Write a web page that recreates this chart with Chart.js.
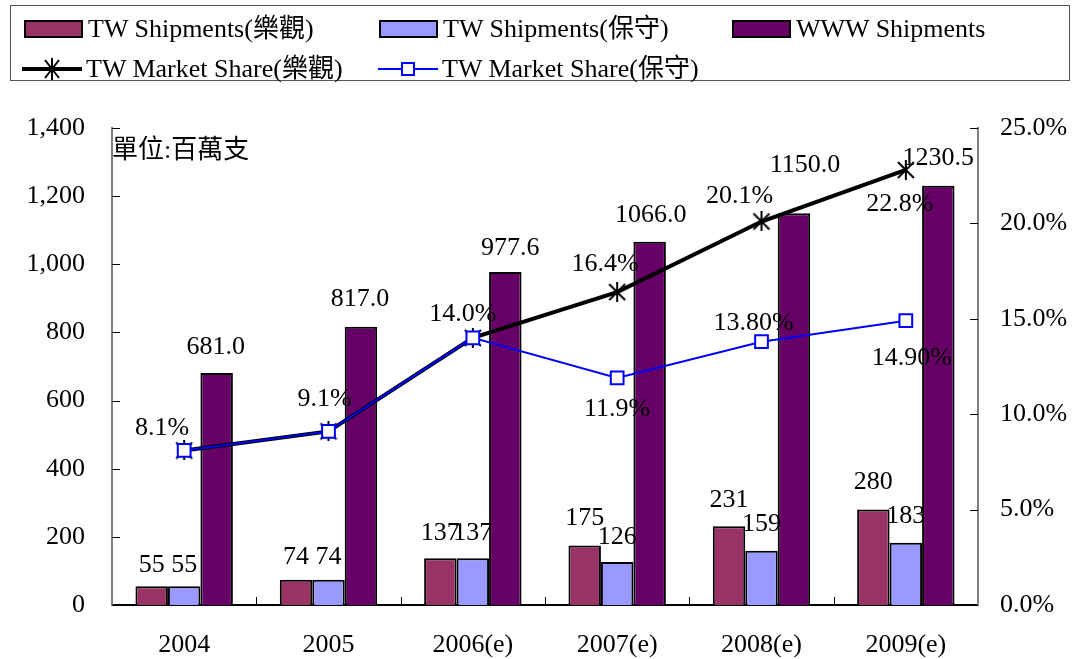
<!DOCTYPE html>
<html>
<head>
<meta charset="utf-8">
<script src="https://cdn.jsdelivr.net/npm/chart.js@4"></script>
<style>
  body { margin: 0; background: #fff; }
  #wrap { position: relative; width: 1082px; height: 659px; font-family: "Liberation Serif", "Noto Sans CJK TC", serif; }
  #legend { position: absolute; left: 10px; top: 5px; width: 1060px; height: 76px; border: 1px solid #555; box-sizing: border-box; }
  .item { position: absolute; font-size: 26px; line-height: 30px; white-space: nowrap; color: #000; }
  .item svg { position: absolute; left: 0; top: 0; }
  .item span { position: absolute; top: 0; }
</style>
</head>
<body>
<div id="wrap">
  <canvas id="chart" width="1082" height="659"></canvas>
  <div id="legend"></div>
</div>
<script>
const years = ['2004', '2005', '2006(e)', '2007(e)', '2008(e)', '2009(e)'];
const twOptimistic = [55, 74, 137, 175, 231, 280];
const twConservative = [55, 74, 137, 126, 159, 183];
const wwwShipments = [681.0, 817.0, 977.6, 1066.0, 1150.0, 1230.5];
const shareOptimistic = [8.1, 9.1, 14.0, 16.4, 20.1, 22.8];
const shareConservative = [8.1, 9.1, 14.0, 11.9, 13.8, 14.9];
const shipmentTicks = [0, 200, 400, 600, 800, 1000, 1200, 1400];
const shareTicks = [0, 5, 10, 15, 20, 25];

const FONT = '"Liberation Serif", "Noto Sans CJK TC", serif';

// marker for the optimistic share line: X with a vertical stroke
const starMark = document.createElement('canvas');
starMark.width = 20; starMark.height = 20;
(function() {
    const c = starMark.getContext('2d');
    c.strokeStyle = '#000';
    c.lineWidth = 2;
    c.beginPath();
    c.moveTo(2, 2); c.lineTo(18, 18);
    c.moveTo(18, 2); c.lineTo(2, 18);
    c.moveTo(10, 0); c.lineTo(10, 20);
    c.stroke();
})();

// label offsets from each point (text centre), per dataset
const labelSetup = [
    { text: v => String(v), off: [[0,-21],[0,-23],[0,-25],[0,-27],[0,-26],[0,-27]] },
    { text: v => String(v), off: [[0,-21],[0,-23],[0,-25],[0,-25],[0,-27],[0,-26]] },
    { text: v => v.toFixed(1), off: [[-1,-26],[-1,-27],[5,-24],[1,-27],[11,-48],[0,-28]] },
    { text: v => v.toFixed(1) + '%', off: [[-22,-22],[-4,-32],[-10,-24],[-12,-28],[-22,-25],[-6,34]] },
    { text: (v, i) => i < 3 ? null : v.toFixed(i === 3 ? 1 : 2) + '%', off: [[0,0],[0,0],[0,0],[0,31],[-8,-19],[6,37]] }
];

const valueLabels = {
    id: 'valueLabels',
    afterDatasetsDraw(chart) {
        const ctx = chart.ctx;
        ctx.save();
        ctx.font = '26px ' + FONT;
        ctx.fillStyle = '#000';
        ctx.textAlign = 'center';
        ctx.textBaseline = 'middle';
        chart.data.datasets.forEach((ds, di) => {
            const setup = labelSetup[di];
            chart.getDatasetMeta(di).data.forEach((el, i) => {
                const t = setup.text(ds.data[i], i);
                if (t === null) return;
                const o = setup.off[i];
                ctx.fillText(t, el.x + o[0], el.y + o[1]);
            });
        });
        // unit note
        ctx.textAlign = 'left';
        ctx.fillText('單位:百萬支', chart.chartArea.left, 151);
        ctx.restore();
    }
};

const innerTicks = {
    id: 'innerTicks',
    afterDraw(chart) {
        const { ctx, chartArea: a, scales } = chart;
        ctx.save();
        ctx.strokeStyle = '#000';
        ctx.lineWidth = 1;
        ctx.beginPath();
        scales.y.ticks.forEach((t, i) => {
            const py = Math.round(scales.y.getPixelForTick(i)) + 0.5;
            ctx.moveTo(a.left, py); ctx.lineTo(a.left + 8, py);
        });
        scales.y1.ticks.forEach((t, i) => {
            const py = Math.round(scales.y1.getPixelForTick(i)) + 0.5;
            ctx.moveTo(a.right - 8, py); ctx.lineTo(a.right, py);
        });
        for (let i = 1; i < years.length; i++) {
            const px = Math.round((scales.x.getPixelForTick(i - 1) + scales.x.getPixelForTick(i)) / 2) + 0.5;
            ctx.moveTo(px, a.bottom); ctx.lineTo(px, a.bottom - 8);
        }
        ctx.stroke();
        ctx.restore();
    }
};

const ctx = document.getElementById('chart').getContext('2d');
new Chart(ctx, {
    type: 'bar',
    data: {
        labels: years,
        datasets: [
            { label: 'TW Shipments(樂觀)', data: twOptimistic, backgroundColor: '#993366', borderColor: '#000', borderWidth: 2, yAxisID: 'y', order: 3 },
            { label: 'TW Shipments(保守)', data: twConservative, backgroundColor: '#9999ff', borderColor: '#000', borderWidth: 2, yAxisID: 'y', order: 3 },
            { label: 'WWW Shipments', data: wwwShipments, backgroundColor: '#660066', borderColor: '#000', borderWidth: 2, yAxisID: 'y', order: 3 },
            { type: 'line', label: 'TW Market Share(樂觀)', data: shareOptimistic, borderColor: '#000', borderWidth: 4, pointStyle: starMark, pointRadius: 10, yAxisID: 'y1', order: 1, tension: 0 },
            { type: 'line', label: 'TW Market Share(保守)', data: shareConservative, borderColor: '#0000ff', borderWidth: 2, pointStyle: 'rect', pointRadius: 9, pointBackgroundColor: '#fff', pointBorderColor: '#0000ff', pointBorderWidth: 2, yAxisID: 'y1', order: 0, tension: 0 }
        ]
    },
    options: {
        responsive: false,
        animation: false,
        layout: { padding: { top: 128, left: 0, right: 0, bottom: 0 } },
        datasets: { bar: { categoryPercentage: 0.675, barPercentage: 1 } },
        plugins: { legend: { display: false }, tooltip: { enabled: false } },
        scales: {
            x: {
                grid: { display: false, drawTicks: false },
                border: { color: '#000', width: 2 },
                ticks: { color: '#000', font: { family: FONT, size: 26 }, padding: 25 },
                afterFit: s => { s.height = 54; }
            },
            y: {
                position: 'left',
                min: 0, max: 1400,
                afterBuildTicks: s => { s.ticks = shipmentTicks.map(v => ({ value: v })); },
                grid: { display: false, drawTicks: false },
                border: { color: '#808080', width: 2 },
                ticks: { color: '#000', font: { family: FONT, size: 26 }, padding: 27, callback: v => v.toLocaleString('en-US') },
                afterFit: s => { s.width = 112; }
            },
            y1: {
                position: 'right',
                min: 0, max: 25,
                afterBuildTicks: s => { s.ticks = shareTicks.map(v => ({ value: v })); },
                grid: { display: false, drawTicks: false },
                border: { color: '#808080', width: 2 },
                ticks: { color: '#000', font: { family: FONT, size: 26 }, padding: 22, callback: v => v.toFixed(1) + '%' },
                afterFit: s => { s.width = 104; }
            }
        }
    },
    plugins: [valueLabels, innerTicks]
});

// legend box
const legendItems = [
    { text: 'TW Shipments(樂觀)', x: 13, y: 8, kind: 'box', color: '#993366' },
    { text: 'TW Shipments(保守)', x: 368, y: 8, kind: 'box', color: '#9999ff' },
    { text: 'WWW Shipments', x: 721, y: 8, kind: 'box', color: '#660066' },
    { text: 'TW Market Share(樂觀)', x: 11, y: 48, kind: 'star' },
    { text: 'TW Market Share(保守)', x: 367, y: 48, kind: 'square' }
];
const legend = document.getElementById('legend');
legendItems.forEach(it => {
    const d = document.createElement('div');
    d.className = 'item';
    d.style.left = it.x + 'px';
    d.style.top = it.y + 'px';
    let svg = '';
    if (it.kind === 'box') {
        svg = '<svg width="62" height="30"><rect x="1" y="7" width="57" height="16" fill="' + it.color + '" stroke="#000" stroke-width="2"/></svg>';
    } else if (it.kind === 'star') {
        svg = '<svg width="62" height="30"><line x1="0" y1="15" x2="60" y2="15" stroke="#000" stroke-width="4"/>' +
              '<path d="M23 6 L37 24 M37 6 L23 24 M30 4 L30 26" stroke="#000" stroke-width="2" fill="none"/></svg>';
    } else {
        svg = '<svg width="62" height="30"><line x1="0" y1="15" x2="60" y2="15" stroke="#0000ff" stroke-width="2"/>' +
              '<rect x="24" y="9" width="12" height="12" fill="#fff" stroke="#0000ff" stroke-width="2"/></svg>';
    }
    d.innerHTML = svg + '<span style="left:64px">' + it.text + '</span>';
    legend.appendChild(d);
});
</script>
</body>
</html>
